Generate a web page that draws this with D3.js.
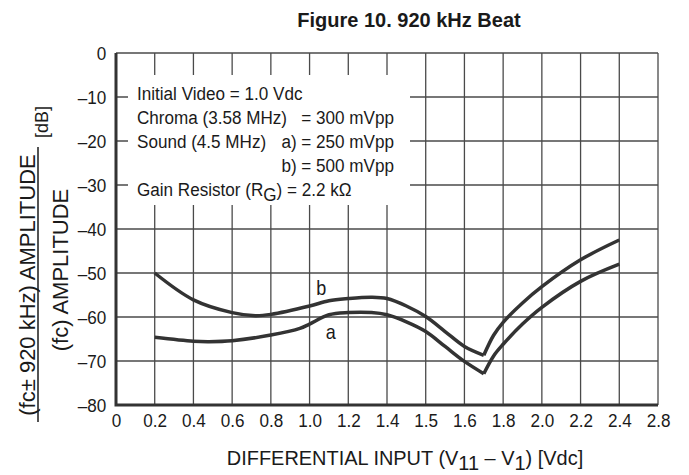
<!DOCTYPE html>
<html>
<head>
<meta charset="utf-8">
<script src="https://cdn.jsdelivr.net/npm/d3@7/dist/d3.min.js"></script>
<style>
  body { margin: 0; background: #fff; }
  text { font-family: "Liberation Sans", Arial, Helvetica, sans-serif; fill: #1a1a1a; }
</style>
</head>
<body>
<div id="chart"></div>
<script>
var width = 689;
var height = 475;
var margin = {top: 53, right: 31, bottom: 70, left: 116};
var squeeze = 0.9; // the original lettering is a condensed face

// tick labels exactly as printed on the figure (spacing is even, values are not)
var xTicks = [0, 0.2, 0.4, 0.6, 0.8, 1.0, 1.2, 1.4, 1.5, 1.6, 1.8, 2.0, 2.2, 2.4, 2.8];
var yTicks = [0, -10, -20, -30, -40, -50, -60, -70, -80];

// curve b : sound 500 mVpp, [input Vdc, dB]
var curveB = [[0.2, -50.0], [0.4, -56.1], [0.6, -59.0], [0.72, -59.7], [0.8, -59.4], [1.0, -57.5],
  [1.1, -56.3], [1.2, -55.8], [1.32, -55.5], [1.4, -55.8], [1.45, -57.5], [1.5, -59.9],
  [1.55, -63.3], [1.6, -66.7], [1.7, -68.7], [1.75, -64.2], [1.8, -61.2], [1.9, -56.8],
  [2.0, -53.1], [2.2, -47.0], [2.4, -42.5]];
// curve a : sound 250 mVpp
var curveA = [[0.2, -64.6], [0.4, -65.5], [0.48, -65.6], [0.6, -65.4], [0.8, -64.1], [0.95, -62.6],
  [1.0, -61.6], [1.1, -59.5], [1.2, -59.0], [1.32, -59.0], [1.4, -59.5], [1.45, -61.1],
  [1.5, -63.3], [1.55, -66.7], [1.6, -70.1], [1.7, -72.9], [1.75, -68.9], [1.8, -66.2],
  [1.9, -61.6], [2.0, -57.8], [2.2, -51.9], [2.4, -48.0]];
var curveNames = ["b", "a"];
var curveLabelAt = [[1.06, -53.4], [1.11, -63.4]];

var notesLeft = ["Initial Video = 1.0 Vdc", "Chroma (3.58 MHz)", "Sound (4.5 MHz)", "", null];
var notesRight = ["", "= 300 mVpp", "a) = 250 mVpp", "b) = 500 mVpp", ""];

var svg = d3.select("#chart")
  .append("svg")
  .attr("width", width)
  .attr("height", height)
  .attr("viewBox", [0, 0, width, height]);

var plotW = width - margin.left - margin.right;
var plotH = height - margin.top - margin.bottom;

// each printed label sits on its own grid line
var x = d3.scaleLinear()
  .domain(xTicks)
  .range(xTicks.map((d, i) => margin.left + i * plotW / (xTicks.length - 1)));
var y = d3.scaleLinear()
  .domain([0, -80])
  .range([margin.top, margin.top + plotH]);

function narrowText(parent, px, py, anchor, k) {
  return parent.append("text")
    .attr("transform", "translate(" + px + "," + py + ") scale(" + (k || squeeze) + ",1)")
    .attr("text-anchor", anchor || "start");
}

// grid
var grid = svg.append("g").attr("stroke", "#4a4a4a").attr("stroke-width", 1.3);
grid.selectAll("line.v")
  .data(xTicks.slice(1))
  .join("line")
  .attr("class", "v")
  .attr("x1", d => x(d)).attr("x2", d => x(d))
  .attr("y1", y(0)).attr("y2", y(-80));
grid.selectAll("line.h")
  .data(yTicks.slice(0, -1))
  .join("line")
  .attr("class", "h")
  .attr("x1", x(0)).attr("x2", x(2.8))
  .attr("y1", d => y(d)).attr("y2", d => y(d));

// white panel behind the test conditions
svg.append("rect")
  .attr("x", margin.left + 12)
  .attr("y", margin.top + 22)
  .attr("width", 282)
  .attr("height", 130)
  .attr("fill", "#fff");

// heavy left / bottom axes
svg.append("path")
  .attr("d", "M" + x(0) + "," + y(0) + "V" + y(-80) + "H" + x(2.8))
  .attr("fill", "none")
  .attr("stroke", "#333")
  .attr("stroke-width", 3);

// tick labels
var xAxis = svg.append("g")
  .attr("transform", "translate(0," + (y(-80) + 6) + ")")
  .call(d3.axisBottom(x).tickValues(xTicks).tickSize(0).tickFormat(d => d === 0 ? "0" : d3.format(".1f")(d)));
xAxis.select(".domain").remove();
xAxis.selectAll("text").attr("font-size", 19).attr("font-family", null).attr("fill", "#1a1a1a")
  .attr("transform", "scale(" + squeeze + ",1)");

var yAxis = svg.append("g")
  .attr("transform", "translate(" + (x(0) - 7) + ",0)")
  .call(d3.axisLeft(y).tickValues(yTicks).tickSize(0).tickFormat(d => d === 0 ? "0" : "\u2013" + Math.abs(d)));
yAxis.select(".domain").remove();
yAxis.selectAll("text").attr("font-size", 19).attr("font-family", null).attr("fill", "#1a1a1a")
  .attr("transform", "scale(" + squeeze + ",1)");

// curves, each drawn as two branches meeting in the sharp dip
var line = d3.line()
  .x(d => x(d[0]))
  .y(d => y(d[1]))
  .curve(d3.curveCatmullRom.alpha(0.5));

[curveB, curveA].forEach(function(pts) {
  var dip = d3.minIndex(pts, d => d[1]);
  [pts.slice(0, dip + 1), pts.slice(dip)].forEach(function(part) {
    svg.append("path")
      .attr("d", line(part))
      .attr("fill", "none")
      .attr("stroke", "#333")
      .attr("stroke-width", 3.5);
  });
});

curveNames.forEach(function(name, i) {
  narrowText(svg, x(curveLabelAt[i][0]), y(curveLabelAt[i][1]), "middle")
    .attr("dy", "0.35em")
    .attr("font-size", 20)
    .text(name);
});

// test conditions
var notes = svg.append("g").attr("font-size", 19);
var nx = margin.left + 21;
var rx = margin.left + 278;
notesLeft.forEach(function(t, i) {
  var ty = 100 + i * 24;
  if (t) narrowText(notes, nx, ty).text(t);
  if (notesRight[i]) narrowText(notes, rx, ty, "end").text(notesRight[i]);
});
var g5 = narrowText(notes, nx, 196);
g5.append("tspan").text("Gain Resistor (R");
g5.append("tspan").attr("dy", 5).text("G");
g5.append("tspan").attr("dy", -5).text(") = 2.2 k\u03A9");

// title
svg.append("text")
  .attr("x", 409)
  .attr("y", 27)
  .attr("text-anchor", "middle")
  .attr("font-size", 20)
  .attr("font-weight", "bold")
  .text("Figure 10. 920 kHz Beat");

// x title
var xt = narrowText(svg, 405, 465, "middle", 0.95).attr("font-size", 21);
xt.append("tspan").text("DIFFERENTIAL INPUT (V");
xt.append("tspan").attr("dy", 5).text("11");
xt.append("tspan").attr("dy", -5).text(" \u2013 V");
xt.append("tspan").attr("dy", 5).text("1");
xt.append("tspan").attr("dy", -5).text(") [Vdc]");

// y title, a ratio written as a fraction
var yt = svg.append("g").attr("transform", "rotate(-90)");
yt.append("text").attr("x", -285).attr("y", 35).attr("text-anchor", "middle").attr("font-size", 22)
  .text("(fc\u00B1 920 kHz) AMPLITUDE");
yt.append("line").attr("x1", -422).attr("x2", -147).attr("y1", 38).attr("y2", 38)
  .attr("stroke", "#1a1a1a").attr("stroke-width", 1.5);
yt.append("text").attr("x", -270).attr("y", 68).attr("text-anchor", "middle").attr("font-size", 22)
  .text("(fc) AMPLITUDE");
yt.append("text").attr("x", -122).attr("y", 48).attr("text-anchor", "middle").attr("font-size", 18)
  .text("[dB]");
</script>
</body>
</html>
